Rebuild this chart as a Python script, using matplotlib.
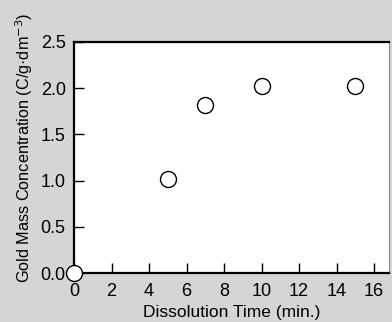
import matplotlib
matplotlib.use("Agg")
import matplotlib.pyplot as plt

# data
time_min = [0, 5, 7, 10, 15]
gold_conc = [0.0, 1.02, 1.82, 2.02, 2.02]
x_ticks = [0, 2, 4, 6, 8, 10, 12, 14, 16]
y_ticks = [0.0, 0.5, 1.0, 1.5, 2.0, 2.5]

plt.rcParams['font.family'] = ['Liberation Sans', 'DejaVu Sans']

bg = '#d4d5d7'
fig = plt.figure(figsize=(3.92, 3.22), dpi=100, facecolor=bg)
ax = fig.add_axes([74/392, 1 - 273/322, (389-74)/392, (273-42)/322])
ax.set_facecolor('white')

ax.plot(time_min, gold_conc, 'o', ms=11.5, mfc='white', mec='black', mew=1.0,
        clip_on=False, zorder=5)

ax.set_xlim(0, 16.8)
ax.set_ylim(0, 2.5)
ax.set_xticks(x_ticks)
ax.set_yticks(y_ticks)
ax.set_yticklabels([f'{v:.1f}' for v in y_ticks])
ax.tick_params(direction='in', length=7, width=1, labelsize=13,
               top=False, right=False)
ax.tick_params(axis='x', pad=7)
ax.tick_params(axis='y', pad=6)

for side in ['left', 'bottom', 'top']:
    ax.spines[side].set_linewidth(1.6)
ax.spines['right'].set_linewidth(0.8)
ax.spines['right'].set_color('#888888')

ax.set_xlabel('Dissolution Time (min.)', fontsize=12.5, labelpad=4)
ax.set_ylabel('Gold Mass Concentration (C/g\u00b7dm$^{-3}$)', fontsize=11.7)
ax.yaxis.set_label_coords(-0.125, 0.54)

fig.savefig('out.png', dpi=100, facecolor=bg)
